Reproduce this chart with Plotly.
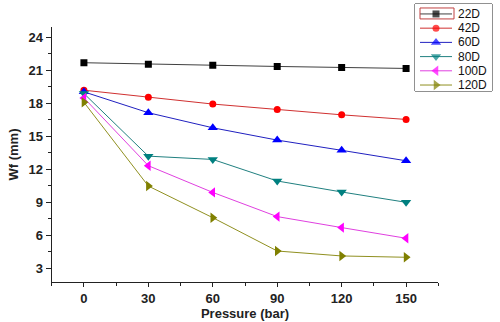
import plotly.graph_objects as go

# Pressure levels (bar) and Wf (mm) for each series
pressure = [0, 30, 60, 90, 120, 150]
names = ["22D", "42D", "60D", "80D", "100D", "120D"]
wf_22d = [21.7, 21.57, 21.48, 21.36, 21.27, 21.18]
wf_42d = [19.2, 18.55, 17.94, 17.45, 16.96, 16.54]
wf_60d = [19.05, 17.15, 15.78, 14.66, 13.73, 12.78]
wf_80d = [18.9, 13.2, 12.9, 10.94, 9.94, 9.0]
wf_100d = [18.5, 12.33, 9.9, 7.7, 6.7, 5.73]
wf_120d = [18.1, 10.48, 7.6, 4.57, 4.12, 4.0]

series = [wf_22d, wf_42d, wf_60d, wf_80d, wf_100d, wf_120d]
colors = ["#000000", "#ff0000", "#0000ff", "#008080", "#ff00ff", "#808000"]
line_colors = ["#404040", "#d03030", "#2020c0", "#208080", "#e040e0", "#909020"]
symbols = ["square", "circle", "triangle-up", "triangle-down", "triangle-left", "triangle-right"]
sizes = [7, 7, 9, 9, 9, 9]

W, H = 500, 322
FONT = "Liberation Sans, Arial, sans-serif"

fig = go.Figure()

for name, vals, c, lc, sym, sz in zip(names, series, colors, line_colors, symbols, sizes):
    fig.add_trace(go.Scatter(
        x=pressure, y=vals, name=name, mode="lines+markers",
        line=dict(color=lc, width=1),
        marker=dict(symbol=sym, size=sz, color=c, line=dict(width=0)),
        showlegend=False, xaxis="x", yaxis="y",
    ))

# Compact legend drawn on an inset axis: one row per series
for i, (name, c, lc, sym, sz) in enumerate(zip(names, colors, line_colors, symbols, sizes)):
    fig.add_trace(go.Scatter(
        x=[5, 21, 37], y=[i, i, i], mode="lines+markers",
        line=dict(color=lc, width=1),
        marker=dict(symbol=sym, size=[0, sz, 0], color=c, line=dict(width=0)),
        showlegend=False, hoverinfo="skip", xaxis="x2", yaxis="y2",
    ))
    fig.add_annotation(
        x=41, y=i, xref="x2", yref="y2", text=name, showarrow=False,
        xanchor="left", yanchor="middle",
        font=dict(family=FONT, size=12, color="#111111"),
    )

fig.add_shape(type="rect", xref="x2 domain", yref="y2 domain",
              x0=0, x1=1, y0=0, y1=1, line=dict(color="#222222", width=1),
              fillcolor="white", layer="below")
# highlight frame around first legend sample
fig.add_shape(type="rect", xref="x2", yref="y2",
              x0=5, x1=39, y0=-0.42, y1=0.35,
              line=dict(color="#c04040", width=1), fillcolor="rgba(0,0,0,0)")

axis_font = dict(family=FONT, size=13, color="#222222")

fig.update_layout(
    width=W, height=H,
    margin=dict(l=0, r=0, t=0, b=0),
    paper_bgcolor="white", plot_bgcolor="white",
    font=dict(family=FONT),
    xaxis=dict(
        domain=[51.7 / W, 438.3 / W], range=[-15, 165],
        tickvals=pressure, ticktext=[f"<b>{p}</b>" for p in pressure],
        ticks="outside", ticklen=4, tickwidth=1, tickcolor="#222222",
        minor=dict(dtick=15, tick0=-15, ticks="outside", ticklen=3, tickcolor="#222222"),
        showline=True, linecolor="#222222", linewidth=1.2,
        showgrid=False, zeroline=False, tickfont=axis_font,
        title=dict(text="<b>Pressure (bar)</b>", font=axis_font, standoff=4),
        anchor="y",
    ),
    yaxis=dict(
        domain=[(H - 282) / H, (H - 27) / H], range=[1.75, 24.95],
        tickvals=[3, 6, 9, 12, 15, 18, 21, 24],
        ticktext=[f"<b>{v}</b>" for v in [3, 6, 9, 12, 15, 18, 21, 24]],
        ticks="outside", ticklen=5, tickwidth=1, tickcolor="#222222",
        minor=dict(dtick=1.5, tick0=0, ticks="outside", ticklen=3, tickcolor="#222222"),
        showline=True, linecolor="#222222", linewidth=1.2,
        showgrid=False, zeroline=False, tickfont=axis_font,
        title=dict(text="<b>Wf (mm)</b>", font=axis_font, standoff=6),
        anchor="x",
    ),
    xaxis2=dict(domain=[415 / W, 492 / W], range=[0, 77], visible=False,
                fixedrange=True, anchor="y2"),
    yaxis2=dict(domain=[(H - 91) / H, (H - 4) / H], range=[5.42, -0.70],
                visible=False, fixedrange=True, anchor="x2"),
)

fig.write_html("out.html")
